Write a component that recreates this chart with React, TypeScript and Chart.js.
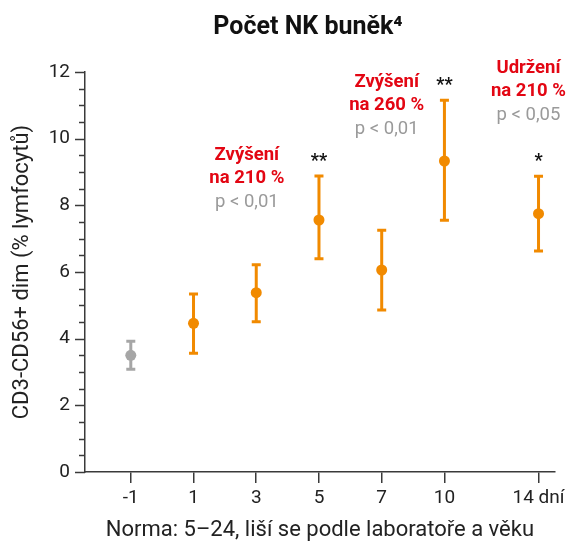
import React, { useEffect, useRef } from 'react';
import { Chart, registerables } from 'chart.js';

Chart.register(...registerables);

// ---- data ----
const categories = ['-1', '1', '3', '5', '7', '10', '14 dní'];
const slots = [0, 1, 2, 3, 4, 5, 6.5]; // position of each category on the axis
const means = [3.5, 4.46, 5.38, 7.56, 6.06, 9.33, 7.75];
const lows = [3.08, 3.56, 4.51, 6.4, 4.86, 7.55, 6.63];
const highs = [3.92, 5.34, 6.22, 8.88, 7.25, 11.15, 8.87];
const stars = ['', '', '', '**', '', '**', '*'];
const yMajorTicks = [0, 2, 4, 6, 8, 10, 12];

const chartTitle = 'Počet NK buněk⁴';
const xTitle = 'Norma: 5–24, liší se podle laboratoře a věku';
const yTitle = 'CD3-CD56+ dim (% lymfocytů)';

const noteTitles = [['Zvýšení', 'na 210 %'], ['Zvýšení', 'na 260 %'], ['Udržení', 'na 210 %']];
const notePValues = ['p < 0,01', 'p < 0,01', 'p < 0,05'];
const noteAnchors = [
  { x: 1.85, y: 9.51 },
  { x: 4.08, y: 11.7 },
  { x: 6.34, y: 12.12 },
];

const ORANGE = '#F18A00';
const GRAY = '#A6A6A6';
const RED = '#E30613';
const PGRAY = '#9A9A9A';
const AXIS = '#3a3a3a';
const FONT = 'Roboto, "DejaVu Sans", sans-serif';

const colorFor = (i: number) => (i === 0 ? GRAY : ORANGE);

const decorPlugin = {
  id: 'decor',
  beforeDatasetsDraw(chart: any) {
    const { ctx, scales } = chart;
    const x = scales.x;
    const y = scales.y;
    ctx.save();
    ctx.lineWidth = 3;
    ctx.lineCap = 'butt';
    slots.forEach((s, i) => {
      const px = x.getPixelForValue(s);
      const top = y.getPixelForValue(highs[i]);
      const bot = y.getPixelForValue(lows[i]);
      ctx.strokeStyle = colorFor(i);
      ctx.beginPath();
      ctx.moveTo(px, top);
      ctx.lineTo(px, bot);
      ctx.moveTo(px - 4.5, top);
      ctx.lineTo(px + 4.5, top);
      ctx.moveTo(px - 4.5, bot);
      ctx.lineTo(px + 4.5, bot);
      ctx.stroke();
    });
    ctx.restore();
  },
  afterDraw(chart: any) {
    const { ctx, scales } = chart;
    const x = scales.x;
    const y = scales.y;
    ctx.save();
    // chart title
    ctx.fillStyle = '#111';
    ctx.font = `bold 25px ${FONT}`;
    ctx.textAlign = 'center';
    ctx.textBaseline = 'alphabetic';
    ctx.fillText(chartTitle, 308, 34);
    // y-axis tick marks (major / minor)
    ctx.strokeStyle = AXIS;
    ctx.lineWidth = 1.5;
    y.ticks.forEach((t: any) => {
      const py = Math.round(y.getPixelForValue(t.value)) + 0.5;
      const major = yMajorTicks.includes(t.value);
      const len = major ? 10 : 6;
      ctx.beginPath();
      ctx.moveTo(y.right - len, py);
      ctx.lineTo(y.right, py);
      ctx.stroke();
    });
    // significance stars
    ctx.fillStyle = '#111';
    ctx.font = `bold 18px ${FONT}`;
    ctx.textAlign = 'center';
    ctx.textBaseline = 'middle';
    stars.forEach((s, i) => {
      if (!s) return;
      const px = x.getPixelForValue(slots[i]);
      const py = y.getPixelForValue(highs[i]) - 15;
      ctx.fillText(s, px, py);
    });
    // notes
    noteAnchors.forEach((a, k) => {
      const px = x.getPixelForValue(a.x);
      let py = y.getPixelForValue(a.y);
      ctx.fillStyle = RED;
      ctx.font = `bold 18.5px ${FONT}`;
      noteTitles[k].forEach((line) => {
        ctx.fillText(line, px, py);
        py += 23.5;
      });
      ctx.fillStyle = PGRAY;
      ctx.font = `18.5px ${FONT}`;
      ctx.fillText(notePValues[k], px, py);
    });
    ctx.restore();
  },
};

export default function App() {
  const ref = useRef<HTMLCanvasElement | null>(null);
  useEffect(() => {
    if (!ref.current) return;
    const chart = new Chart(ref.current, {
      type: 'scatter',
      data: {
        datasets: [
          {
            data: slots.map((s, i) => ({ x: s, y: means[i] })),
            pointRadius: 5.5,
            pointHoverRadius: 5.5,
            backgroundColor: (c: any) => colorFor(c.dataIndex),
            borderColor: (c: any) => colorFor(c.dataIndex),
            borderWidth: 0,
            showLine: false,
          },
        ],
      },
      options: {
        responsive: false,
        animation: false,
        layout: { padding: { left: 0, right: 14, top: 72, bottom: 0 } },
        plugins: {
          legend: { display: false },
          tooltip: { enabled: false },
          title: { display: false },
        },
        scales: {
          x: {
            type: 'linear',
            min: -0.73,
            max: 6.76,
            afterBuildTicks: (scale: any) => {
              scale.ticks = slots.map((v) => ({ value: v }));
            },
            afterFit: (scale: any) => {
              scale.height = 70;
            },
            ticks: {
              autoSkip: false,
              maxRotation: 0,
              color: '#222',
              padding: 4,
              font: { family: FONT, size: 19 },
              callback: (v: any) => {
                const i = slots.indexOf(Number(v));
                return i >= 0 ? categories[i] : '';
              },
            },
            grid: {
              drawOnChartArea: false,
              drawTicks: true,
              tickLength: 11,
              color: AXIS,
              lineWidth: 1.5,
            },
            border: { display: true, color: AXIS, width: 1.5 },
            title: {
              display: true,
              text: xTitle,
              color: '#222',
              font: { family: FONT, size: 22 },
              padding: { top: 0, bottom: -2 },
            },
          },
          y: {
            type: 'linear',
            min: 0,
            max: 12,
            afterFit: (scale: any) => {
              scale.width = 85;
            },
            ticks: {
              stepSize: 0.5,
              autoSkip: false,
              color: '#222',
              padding: 15,
              font: { family: FONT, size: 19 },
              callback: (v: any) => (yMajorTicks.includes(Number(v)) ? String(v) : ''),
            },
            grid: { drawOnChartArea: false, drawTicks: false },
            border: { display: true, color: AXIS, width: 1.5 },
            title: {
              display: true,
              text: yTitle,
              color: '#222',
              font: { family: FONT, size: 22 },
              padding: { top: 9, bottom: 0 },
            },
          },
        },
      },
      plugins: [decorPlugin],
    } as any);
    return () => chart.destroy();
  }, []);
  return (
    <div style={{ position: 'fixed', left: 0, top: 0, width: 569, height: 542, background: '#fff' }}>
      <canvas ref={ref} width={569} height={542} style={{ display: 'block' }} />
    </div>
  );
}
